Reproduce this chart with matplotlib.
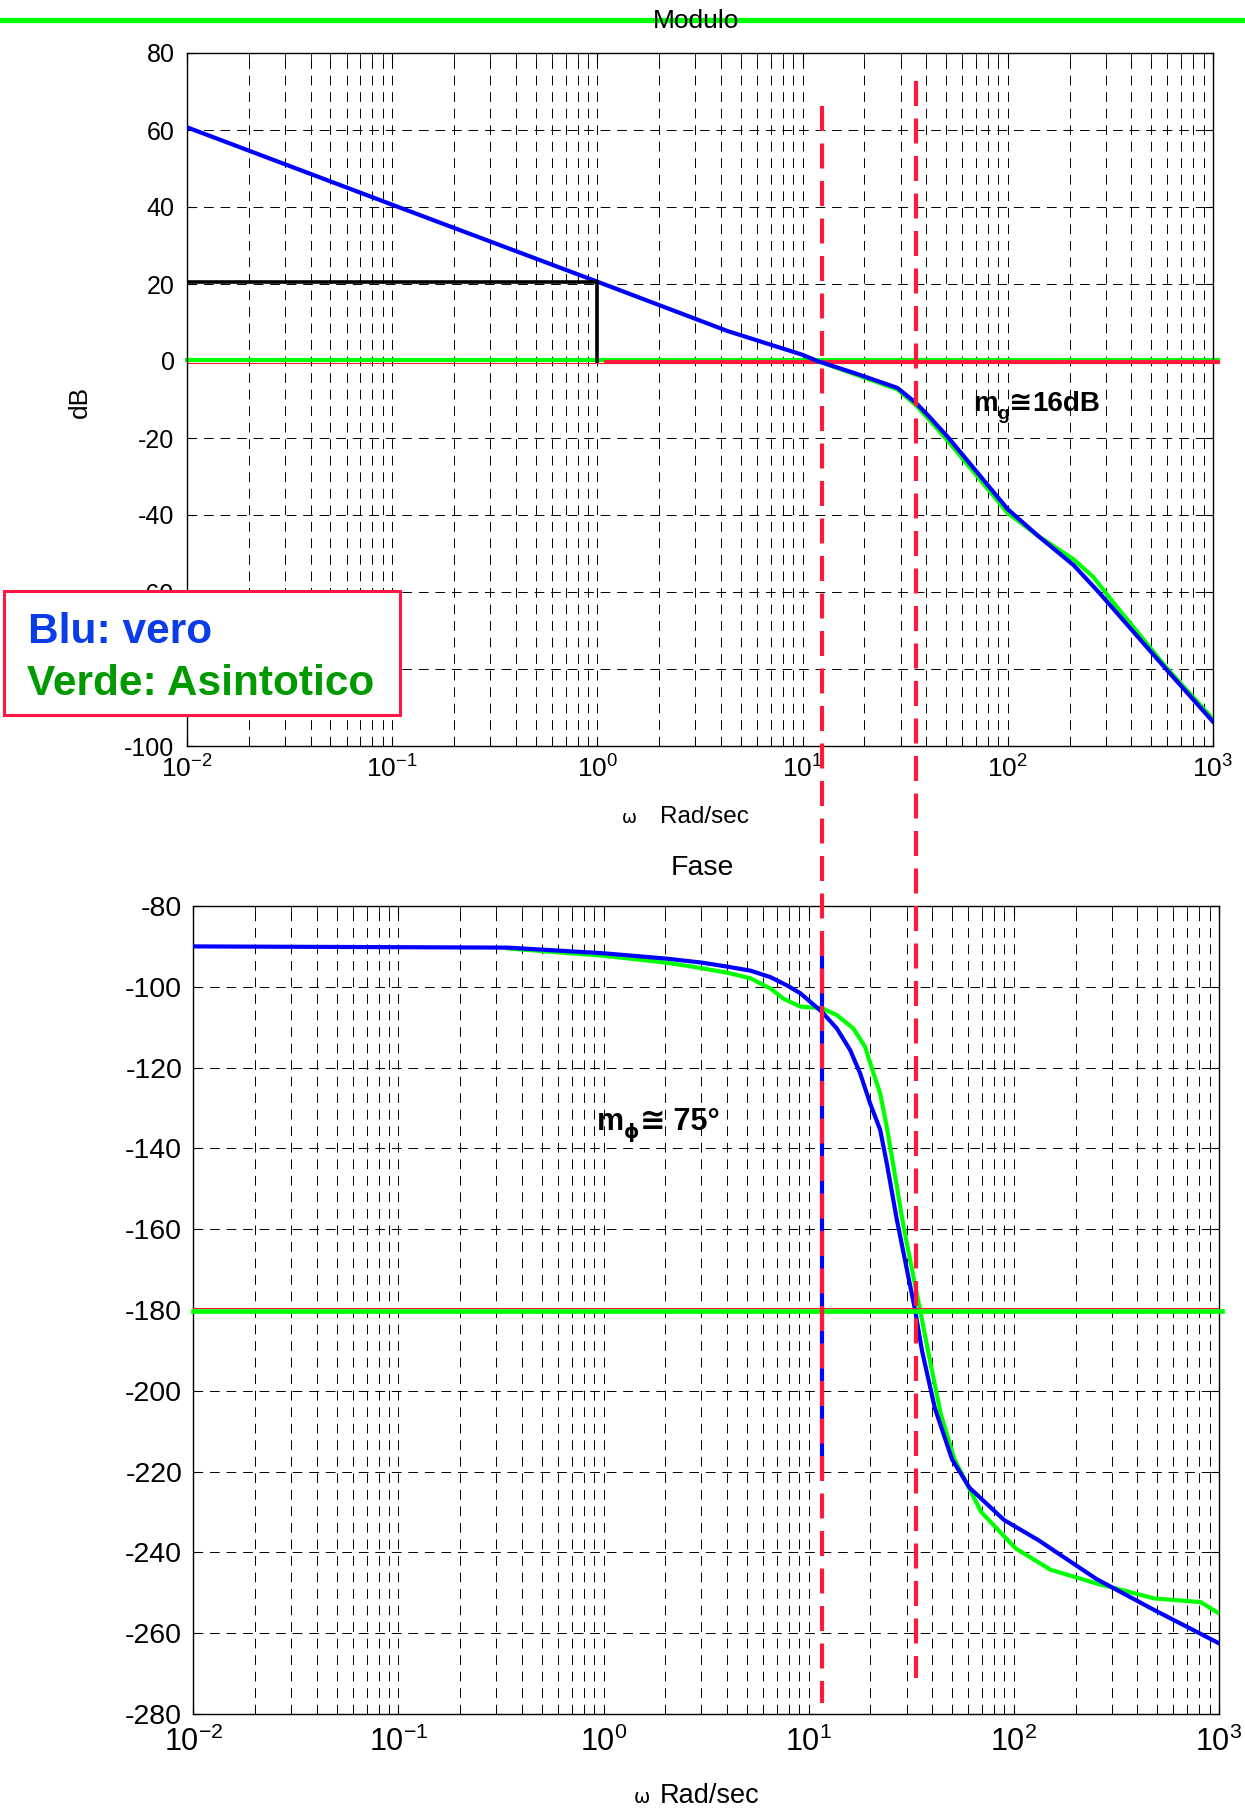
import numpy as np
import matplotlib
matplotlib.use('Agg')
import matplotlib.pyplot as plt
import matplotlib.transforms as mtransforms
from matplotlib.lines import Line2D
from matplotlib.patches import Rectangle
from matplotlib.ticker import LogLocator, NullFormatter

plt.rcParams['font.family'] = ['Liberation Sans', 'DejaVu Sans']
plt.rcParams['mathtext.fontset'] = 'custom'
plt.rcParams['mathtext.rm'] = 'Liberation Sans'
plt.rcParams['mathtext.default'] = 'regular'
plt.rcParams['axes.unicode_minus'] = False

# --- modulo (dB) ---
w_mod = [0.01, 0.1, 1, 4.3, 10, 11.8, 19, 29, 35.7, 41.5, 51.5, 100, 141, 209, 277, 590, 1000]
mod_vero = [60.7, 40.6, 20.6, 7.8, 1.6, 0.0, -3.6, -7.0, -10.9, -14.5, -20.0, -38.5, -45.5,
            -53.0, -60.0, -80.0, -93.7]
w_mod_asi = [11.8, 19, 29, 35.7, 41.5, 51.5, 100, 141, 209, 260, 330, 590, 1000]
mod_asi = [0.0, -3.9, -7.4, -11.5, -15.3, -21.0, -39.5, -45.5, -51.5, -56.0, -63.0, -79.5, -93.0]

# --- fase (gradi) ---
w_fase = [0.01, 0.34, 1, 2, 3, 4, 5.2, 6.5, 7.8, 9.1, 11.6, 13.7, 15.9, 17.8, 19.9, 22.3, 24,
          26.9, 30.1, 33, 35.6, 41.2, 50, 60.8, 89.7, 132, 253, 485, 1000]
fase_vero = [-90, -90.3, -91.7, -93.0, -94.0, -95.0, -96.0, -97.6, -99.6, -101.6, -106.2,
             -110.3, -115.6, -121.4, -128.8, -135.4, -143.6, -157.7, -170, -180, -189.9,
             -204.3, -217, -224, -232, -237, -246.6, -254.3, -262.5]
w_fase_asi = [0.34, 1, 2, 2.7, 4, 5.2, 6.5, 7.5, 9.1, 11.6, 13.7, 16.5, 18.8, 20.7, 22.3, 24,
              25.9, 29, 32.4, 34.9, 38.6, 44, 51.4, 69.3, 102, 151, 253, 485, 813, 1000]
fase_asi = [-90.5, -92.3, -94.0, -95.0, -96.5, -97.9, -100.4, -102.9, -104.9, -105.3, -107,
            -110.3, -114.8, -121.4, -126.4, -134.6, -144.5, -159.4, -171.8, -180, -191.4,
            -205.7, -217, -230, -239, -244.3, -247.7, -251.4, -252.3, -255.1]

# pulsazioni notevoli
w_uno = 1.0
w_gamba = 1.1          # inizio tratto rosso a 0 dB
w_taglio = 12.5        # attraversamento 0 dB
w_taglio_fase = 11.6
w_pi = 35.7            # fase = -180
fase_seg = [-90, -221]

yt_mod = list(range(-100, 81, 20))
yt_fase = list(range(-280, -79, 20))

BLU = '#0000ff'
VERDE = '#00ff00'
ROSSO = '#ff1a3c'

W, H = 1245, 1810


def fx(px):
    return px / W


def fy(py):
    return 1 - py / H


def style(ax, yticks, fs_x, fs_y, pad_x, pad_y):
    ax.set_xscale('log')
    ax.set_xlim(1e-2, 1e3)
    ax.set_ylim(yticks[0], yticks[-1])
    ax.set_yticks(yticks)
    ax.xaxis.set_major_locator(LogLocator(base=10, numticks=10))
    ax.xaxis.set_minor_locator(LogLocator(base=10, subs=np.arange(2, 10), numticks=100))
    ax.xaxis.set_minor_formatter(NullFormatter())
    ax.grid(True, which='major', axis='both', color='k', ls=(0, (10, 7)), lw=0.7)
    ax.grid(True, which='minor', axis='x', color='k', ls=(0, (10, 7)), lw=0.7)
    ax.tick_params(which='both', direction='in', top=True, right=True)
    ax.tick_params(which='major', length=6, width=0.8)
    ax.tick_params(which='minor', length=4, width=0.6)
    ax.tick_params(axis='x', labelsize=fs_x, pad=pad_x)
    ax.tick_params(axis='y', labelsize=fs_y, pad=pad_y)
    for sp in ax.spines.values():
        sp.set_linewidth(1.0)


def run_text(ax, x, y, pieces):
    # scrive pezzi di testo in fila sulla stessa linea di base
    renderer = ax.figure.canvas.get_renderer()
    dx = 0.0
    for s, size, dy, fam in pieces:
        tr = mtransforms.offset_copy(ax.transData, fig=ax.figure, x=dx, y=dy, units='points')
        t = ax.text(x, y, s, transform=tr, fontsize=size, fontweight='bold', family=fam,
                    va='baseline', ha='left', zorder=6)
        bb = t.get_window_extent(renderer)
        dx += bb.width * 72 / ax.figure.dpi


fig = plt.figure(figsize=(12.45, 18.10), dpi=100)
ax1 = fig.add_axes([fx(187), fy(746), (1213 - 187) / W, (746 - 53) / H])
ax2 = fig.add_axes([fx(193.3), fy(1714), (1219 - 193.3) / W, (1714 - 906) / H])

style(ax1, yt_mod, 19, 18, 7, 9)
style(ax2, yt_fase, 22, 20.5, 9, 8)

# modulo
ax1.plot([1e-2, 1.058e3], [0.3, 0.3], color=VERDE, lw=3, zorder=2, clip_on=False)
ax1.plot([1e-2, w_gamba], [-0.6, -0.6], color=ROSSO, lw=0.8, zorder=1.9)
ax1.plot([w_gamba, 1.058e3], [-0.3, -0.3], color=ROSSO, lw=3, zorder=3, clip_on=False)
ax1.plot(w_mod_asi, mod_asi, color=VERDE, lw=3, zorder=4)
ax1.plot(w_mod, mod_vero, color=BLU, lw=3, zorder=5)
m_uno = np.interp(np.log10(w_uno), np.log10(w_mod), mod_vero)
ax1.plot([1e-2, w_uno], [m_uno, m_uno], color='k', lw=2.6, zorder=5)
ax1.plot([w_uno, w_uno], [0, m_uno], color='k', lw=2.6, zorder=5)

# fase
ax2.plot(w_fase_asi, fase_asi, color=VERDE, lw=3, zorder=4)
ax2.plot(w_fase, fase_vero, color=BLU, lw=3, zorder=5)
ax2.plot([1e-2, 1.03e3], [-180.2, -180.2], color=VERDE, lw=3.4, zorder=5.5, clip_on=False)
ax2.plot([1e-2, 1e3], [-179.4, -179.4], color=ROSSO, lw=0.8, zorder=5.6)
ax2.plot([w_taglio_fase, w_taglio_fase], fase_seg, color=BLU, lw=3, zorder=5)

# linee tratteggiate verticali su entrambi i grafici
inv = fig.transFigure.inverted()
x_c = inv.transform(ax1.transData.transform((w_taglio, 0)))[0]
x_p = inv.transform(ax1.transData.transform((w_pi, 0)))[0]
fig.add_artist(Line2D([x_c, x_c], [fy(106), fy(1703)], color=ROSSO, lw=3,
                      ls=(0, (6, 3)), zorder=10))
fig.add_artist(Line2D([x_p, x_p], [fy(81), fy(1678)], color=ROSSO, lw=3,
                      ls=(0, (6, 3)), zorder=10))

# linea verde in testa e titoli
fig.add_artist(Line2D([0, 1], [fy(20), fy(20)], color=VERDE, lw=3.8, zorder=2))
fig.text(fx(696), fy(21), 'Modulo', ha='center', va='center', fontsize=19, zorder=5)
fig.text(fx(702), fy(868), 'Fase', ha='center', va='center', fontsize=20.5)
fig.text(fx(80), fy(402), 'dB', ha='center', va='center', rotation=90, fontsize=19)

fig.text(fx(629), fy(823), 'ω', ha='center', va='baseline', fontsize=13, family='DejaVu Sans')
fig.text(fx(660), fy(823), 'Rad/sec', ha='left', va='baseline', fontsize=17.5)
fig.text(fx(642), fy(1803), 'ω', ha='center', va='baseline', fontsize=14, family='DejaVu Sans')
fig.text(fx(660), fy(1803), 'Rad/sec', ha='left', va='baseline', fontsize=19.5)

# riquadro legenda
fig.add_artist(Rectangle((fx(4), fy(715)), (400 - 4) / W, (715 - 591) / H,
                         transform=fig.transFigure, fc='white', ec='#ff1744', lw=2.2, zorder=3))
fig.text(fx(28), fy(643), 'Blu: vero', color='#0a3ce8', fontsize=30.5, fontweight='bold',
         va='baseline', ha='left', zorder=4)
fig.text(fx(27), fy(695), 'Verde: Asintotico', color='#009a00', fontsize=30.5,
         fontweight='bold', va='baseline', ha='left', zorder=4)

# margini
run_text(ax1, 67.5, -13.0, [('m', 20, 0, 'Liberation Sans'),
                            ('g', 14, -6, 'Liberation Sans'),
                            ('≅', 20, 0, 'DejaVu Sans'),
                            ('16dB', 20, 0, 'Liberation Sans')])
run_text(ax2, 0.93, -135.4, [('m', 22, 0, 'Liberation Sans'),
                             ('ϕ', 14, -6, 'DejaVu Sans'),
                             ('≅', 22, 0, 'DejaVu Sans'),
                             (' 75°', 22, 0, 'Liberation Sans')])

fig.savefig('out.png', dpi=100)
